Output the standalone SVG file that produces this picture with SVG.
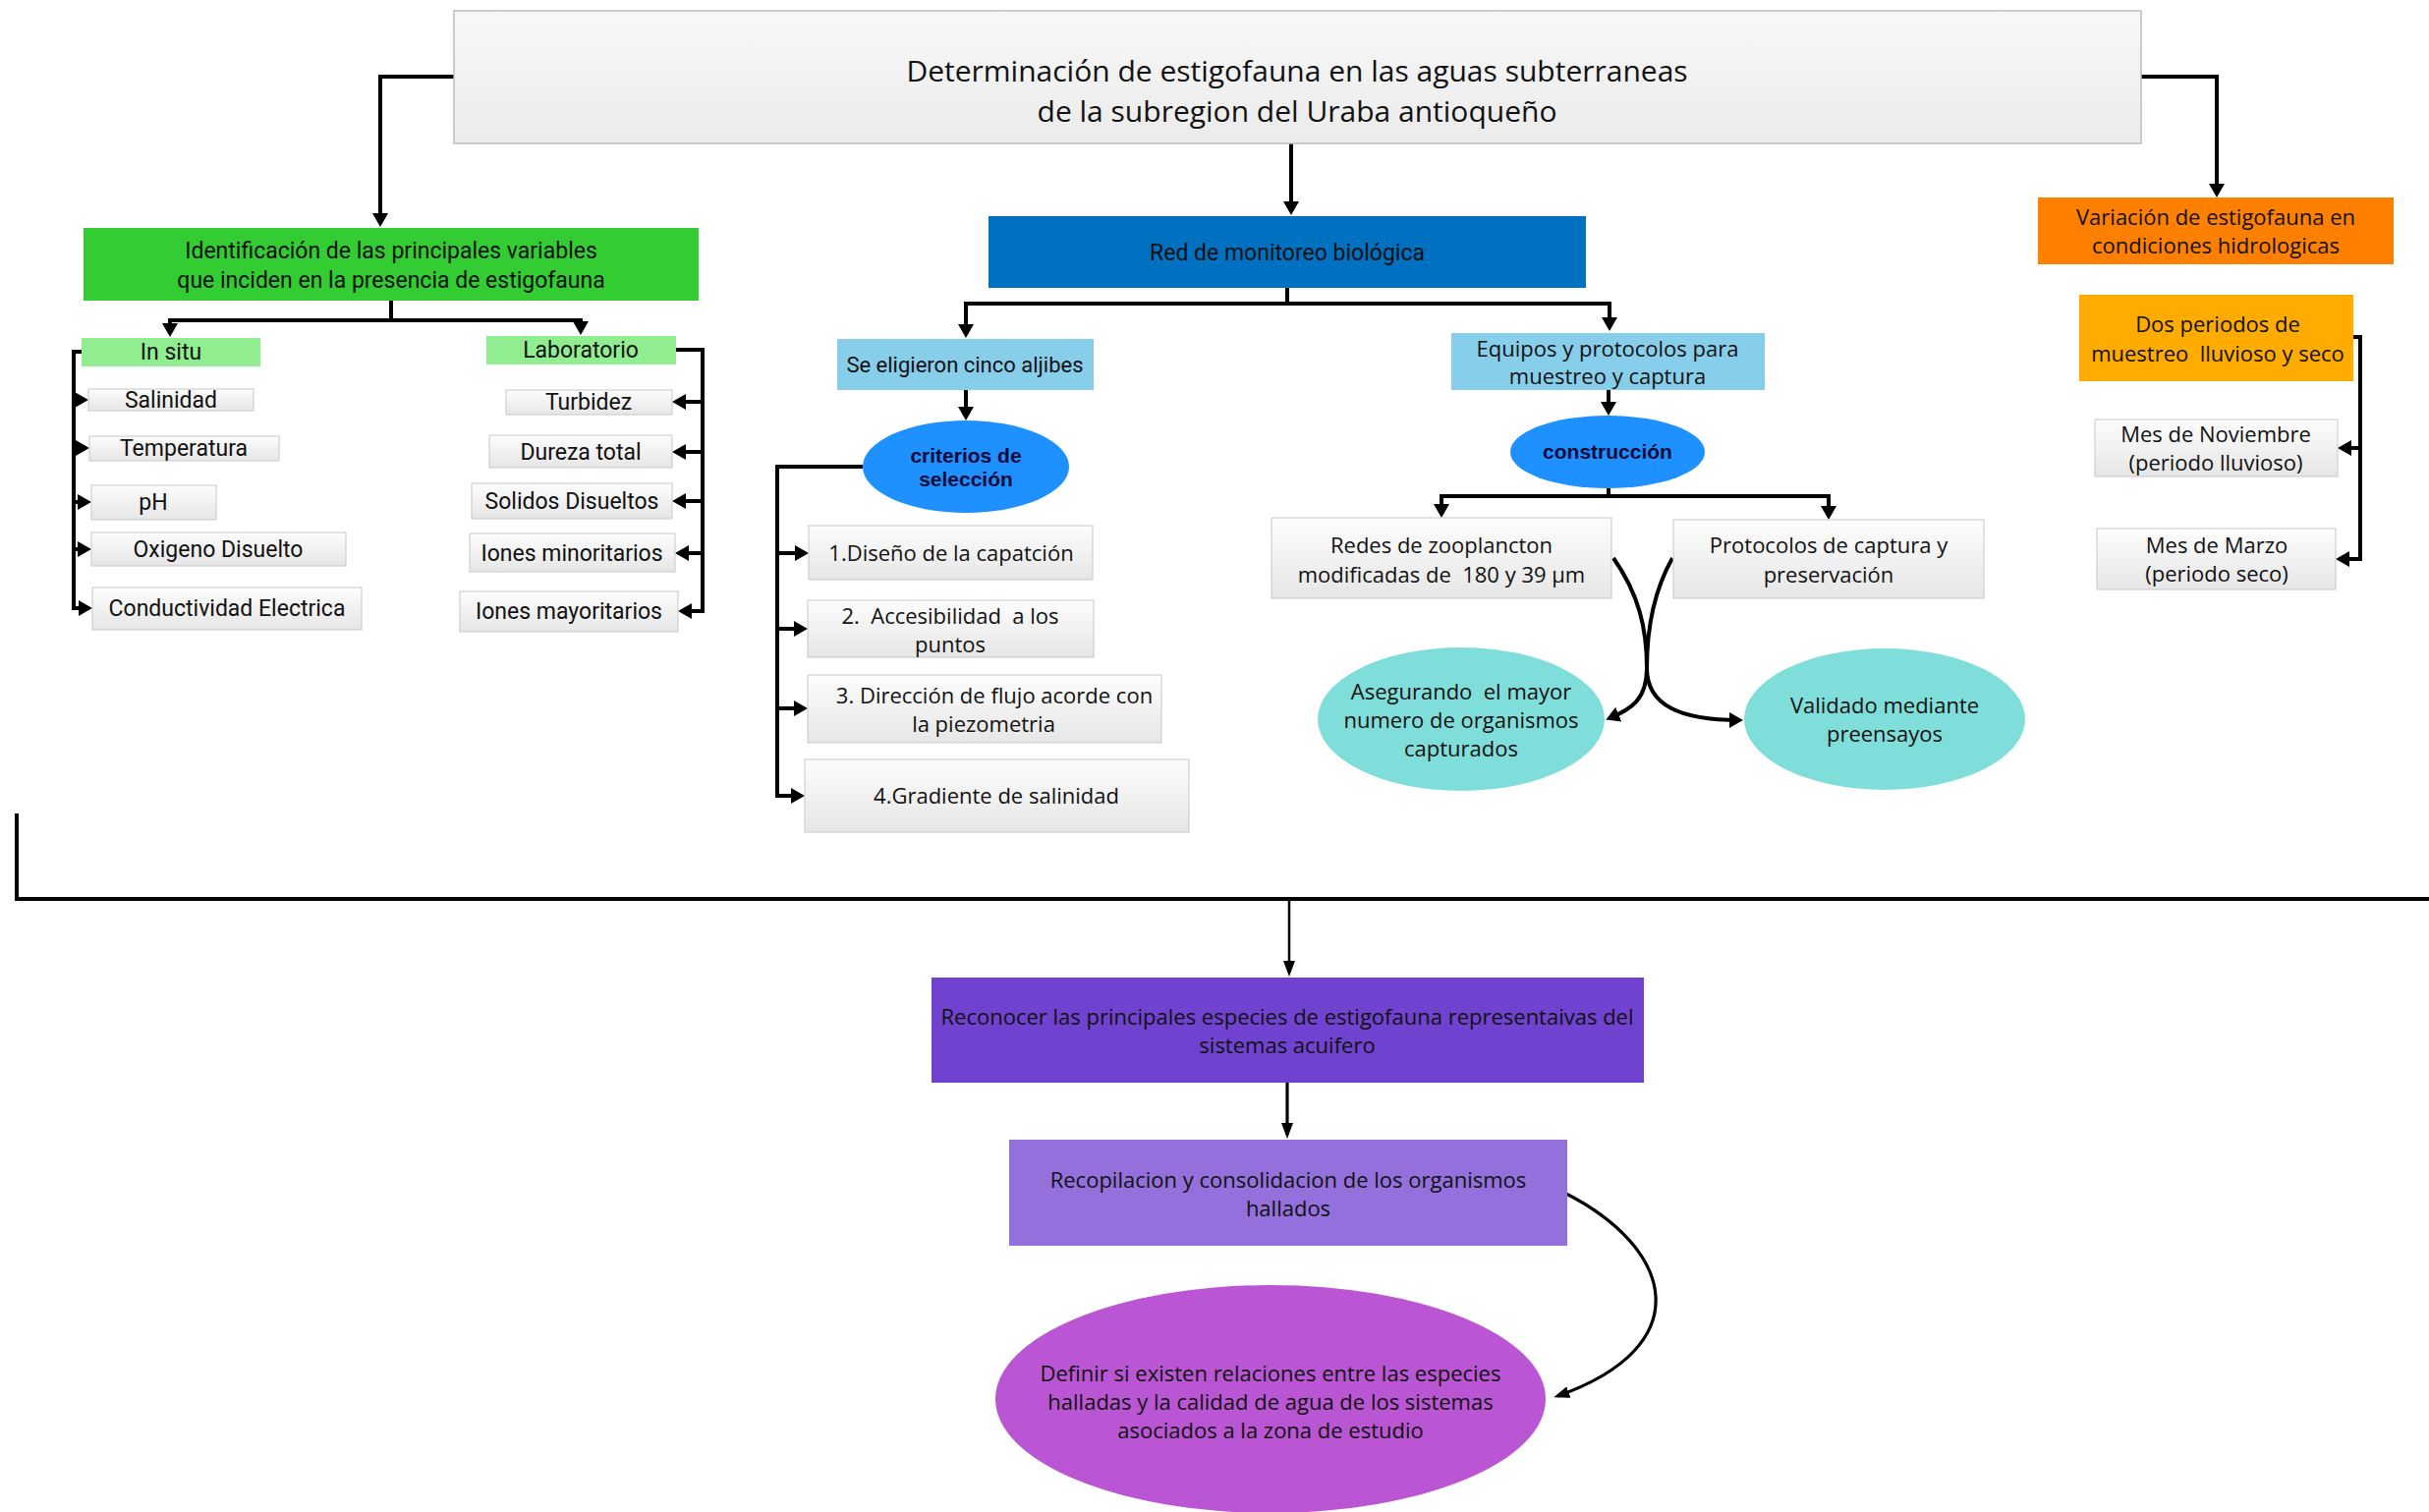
<svg xmlns="http://www.w3.org/2000/svg" width="2472" height="1539" viewBox="0 0 2472 1539">
<defs>
<linearGradient id="gGray" x1="0" y1="0" x2="0" y2="1">
<stop offset="0" stop-color="#fdfdfd"/><stop offset="1" stop-color="#e6e6e6"/>
</linearGradient>
<linearGradient id="gTitle" x1="0" y1="0" x2="0" y2="1">
<stop offset="0" stop-color="#f8f8f8"/><stop offset="1" stop-color="#ebebeb"/>
</linearGradient>
<marker id="ah" viewBox="0 0 14 16" refX="10" refY="8" markerWidth="14" markerHeight="16" markerUnits="userSpaceOnUse" orient="auto"><path d="M0,0 L14,8 L0,16 z" fill="#000"/></marker>
<marker id="ahs" viewBox="0 0 16 12" refX="12" refY="6" markerWidth="16" markerHeight="12" markerUnits="userSpaceOnUse" orient="auto"><path d="M0,0 L16,6 L0,12 z" fill="#000"/></marker>
<style>
.gray{fill:url(#gGray);stroke:#c8c8c8;stroke-width:1}
.t{font-family:"Open Sans","Noto Sans",sans-serif;font-size:22px;fill:#111;text-anchor:middle}
.r{font-family:Roboto,"Liberation Sans",sans-serif;font-size:23px;fill:#111;text-anchor:middle}
.b{font-family:"Liberation Sans",Arial,sans-serif;font-size:21px;font-weight:bold;fill:#0b0b3b;text-anchor:middle}
.ttl{font-family:"Open Sans","Noto Sans",sans-serif;font-size:30px;fill:#111;text-anchor:middle}
.c{fill:none;stroke:#000;stroke-width:4}
.ca{fill:none;stroke:#000;stroke-width:4;marker-end:url(#ah)}
.cs{fill:none;stroke:#000;stroke-width:2.5;marker-end:url(#ahs)}
.cs3{fill:none;stroke:#000;stroke-width:3.2;marker-end:url(#ahs)}
</style>
</defs>
<rect width="2472" height="1539" fill="#fff"/>

<g id="connectors">
<path class="ca" d="M462,78 H387 V227"/>
<path class="ca" d="M1314,146 V215"/>
<path class="ca" d="M2179,78 H2256 V197"/>
<path class="c" d="M398,306 V326 M171,326 H593"/>
<path class="ca" d="M173,326 V339"/>
<path class="ca" d="M591,326 V337"/>
<path class="c" d="M83,358 H75 V621"/>
<path class="ca" d="M75,407 H86"/>
<path class="ca" d="M75,456 H87"/>
<path class="ca" d="M75,511 H89"/>
<path class="ca" d="M75,559 H89"/>
<path class="ca" d="M75,619 H90"/>
<path class="c" d="M688,356 H715 V624"/>
<path class="ca" d="M715,409 H688"/>
<path class="ca" d="M715,460 H688"/>
<path class="ca" d="M715,510 H688"/>
<path class="ca" d="M715,563 H691"/>
<path class="ca" d="M715,622 H694"/>
<path class="c" d="M1310,293 V309 M981,309 H1640"/>
<path class="ca" d="M983,309 V340"/>
<path class="ca" d="M1638,309 V333"/>
<path class="ca" d="M983,397 V424"/>
<path class="ca" d="M1637,397 V419"/>
<path class="c" d="M878,475 H791 V812"/>
<path class="ca" d="M791,563 H819"/>
<path class="ca" d="M791,640 H818"/>
<path class="ca" d="M791,721 H818"/>
<path class="ca" d="M791,810 H815"/>
<path class="c" d="M1637,497 V505 M1465,505 H1863"/>
<path class="ca" d="M1467,505 V523"/>
<path class="ca" d="M1861,505 V525"/>
<path class="ca" d="M1642,568 C1668,605 1676,640 1676,680 C1676,718 1710,733 1770,733"/>
<path class="ca" d="M1702,568 C1684,600 1676,640 1676,680 C1676,712 1660,722 1638,731"/>
<path class="c" d="M2395,343 H2402 V571"/>
<path class="ca" d="M2402,456 H2383"/>
<path class="ca" d="M2402,569 H2381"/>
<path class="c" d="M17,828 V915 H2472"/>
<path class="cs" d="M1312,915 V990"/>
<path class="cs3" d="M1310,1102 V1155"/>
<path class="cs3" d="M1590,1213 C1705,1270 1730,1370 1585,1421"/>
</g>

<g id="n-title">
<rect x="462" y="11" width="1717" height="135" fill="url(#gTitle)" stroke="#bdbdbd" stroke-width="1.5"/>
<text class="ttl" x="1320" y="83">Determinación de estigofauna en las aguas subterraneas</text>
<text class="ttl" x="1320" y="124">de la subregion del Uraba antioqueño</text>
</g>

<g id="n-identificacion">
<rect x="85" y="232" width="626" height="74" fill="#33cc33"/>
<text class="r" x="398" y="263">Identificación de las principales variables</text>
<text class="r" x="398" y="293">que inciden en la presencia de estigofauna</text>
</g>
<g id="n-insitu"><rect x="83" y="344" width="182" height="29" fill="#90ee90"/><text class="r" x="174" y="366">In situ</text></g>
<g id="n-laboratorio"><rect x="495" y="342" width="193" height="29" fill="#90ee90"/><text class="r" x="591" y="364">Laboratorio</text></g>
<g id="n-salinidad"><rect class="gray" x="90" y="396" width="168" height="22"/><text class="r" x="174" y="415">Salinidad</text></g>
<g id="n-temperatura"><rect class="gray" x="91" y="444" width="193" height="25"/><text class="r" x="187" y="464">Temperatura</text></g>
<g id="n-ph"><rect class="gray" x="93" y="494" width="127" height="35"/><text class="r" x="156" y="519">pH</text></g>
<g id="n-oxigeno"><rect class="gray" x="93" y="542" width="259" height="34"/><text class="r" x="222" y="567">Oxigeno Disuelto</text></g>
<g id="n-conductividad"><rect class="gray" x="94" y="598" width="274" height="43"/><text class="r" x="231" y="627">Conductividad Electrica</text></g>
<g id="n-turbidez"><rect class="gray" x="515" y="397" width="169" height="25"/><text class="r" x="599" y="417">Turbidez</text></g>
<g id="n-dureza"><rect class="gray" x="498" y="443" width="186" height="33"/><text class="r" x="591" y="468">Dureza total</text></g>
<g id="n-solidos"><rect class="gray" x="480" y="492" width="204" height="36"/><text class="r" x="582" y="518">Solidos Disueltos</text></g>
<g id="n-minoritarios"><rect class="gray" x="478" y="543" width="209" height="39"/><text class="r" x="582" y="571">Iones minoritarios</text></g>
<g id="n-mayoritarios"><rect class="gray" x="468" y="602" width="222" height="41"/><text class="r" x="579" y="630">Iones mayoritarios</text></g>

<g id="n-red"><rect x="1006" y="220" width="608" height="73" fill="#0070c0"/><text class="r" x="1310" y="265">Red de monitoreo biológica</text></g>
<g id="n-aljibes"><rect x="852" y="345" width="261" height="52" fill="#87ceeb"/><text class="r" x="982" y="379" style="font-size:22px">Se eligieron cinco aljibes</text></g>
<g id="n-equipos"><rect x="1477" y="339" width="319" height="58" fill="#87ceeb"/>
<text class="t" x="1636" y="363">Equipos y protocolos para</text><text class="t" x="1636" y="391">muestreo y captura</text></g>
<g id="n-criterios"><ellipse cx="983" cy="475" rx="105" ry="47" fill="#1e90ff"/>
<text class="b" x="983" y="471">criterios de</text><text class="b" x="983" y="495">selección</text></g>
<g id="n-construccion"><ellipse cx="1636" cy="460" rx="99" ry="37" fill="#1e90ff"/><text class="b" x="1636" y="467">construcción</text></g>
<g id="n-c1"><rect class="gray" x="823" y="535" width="289" height="55"/><text class="t" x="968" y="571">1.Diseño de la capatción</text></g>
<g id="n-c2"><rect class="gray" x="822" y="611" width="291" height="58"/>
<text class="t" x="967" y="635" xml:space="preserve">2.  Accesibilidad  a los</text><text class="t" x="967" y="664">puntos</text></g>
<g id="n-c3"><rect class="gray" x="822" y="687" width="360" height="69"/>
<text class="t" x="1012" y="716">3. Dirección de flujo acorde con</text><text class="t" x="1001" y="745">la piezometria</text></g>
<g id="n-c4"><rect class="gray" x="819" y="773" width="391" height="74"/><text class="t" x="1014" y="818">4.Gradiente de salinidad</text></g>
<g id="n-redes"><rect class="gray" x="1294" y="527" width="346" height="82"/>
<text class="t" x="1467" y="563">Redes de zooplancton</text><text class="t" x="1467" y="593" xml:space="preserve">modificadas de  180 y 39 µm</text></g>
<g id="n-protocolos"><rect class="gray" x="1703" y="529" width="316" height="80"/>
<text class="t" x="1861" y="563">Protocolos de captura y</text><text class="t" x="1861" y="593">preservación</text></g>
<g id="n-asegurando"><ellipse cx="1487" cy="732" rx="146" ry="73" fill="#80deda"/>
<text class="t" x="1487" y="712" xml:space="preserve">Asegurando  el mayor</text><text class="t" x="1487" y="741">numero de organismos</text><text class="t" x="1487" y="770">capturados</text></g>
<g id="n-validado"><ellipse cx="1918" cy="732" rx="143" ry="72" fill="#80deda"/>
<text class="t" x="1918" y="726">Validado mediante</text><text class="t" x="1918" y="755">preensayos</text></g>

<g id="n-variacion"><rect x="2074" y="201" width="362" height="68" fill="#ff8000"/>
<text class="t" x="2255" y="229">Variación de estigofauna en</text><text class="t" x="2255" y="258">condiciones hidrologicas</text></g>
<g id="n-periodos"><rect x="2116" y="300" width="279" height="88" fill="#ffab00"/>
<text class="t" x="2257" y="338">Dos periodos de</text><text class="t" x="2257" y="368" xml:space="preserve">muestreo  lluvioso y seco</text></g>
<g id="n-noviembre"><rect class="gray" x="2132" y="427" width="247" height="58"/>
<text class="t" x="2255" y="450">Mes de Noviembre</text><text class="t" x="2255" y="479">(periodo lluvioso)</text></g>
<g id="n-marzo"><rect class="gray" x="2134" y="538" width="243" height="62"/>
<text class="t" x="2256" y="563">Mes de Marzo</text><text class="t" x="2256" y="592">(periodo seco)</text></g>

<g id="n-reconocer"><rect x="948" y="995" width="725" height="107" fill="#6f42cf"/>
<text class="t" x="1310" y="1043">Reconocer las principales especies de estigofauna representaivas del</text><text class="t" x="1310" y="1072">sistemas acuifero</text></g>
<g id="n-recopilacion"><rect x="1027" y="1160" width="568" height="108" fill="#9370db"/>
<text class="t" x="1311" y="1209">Recopilacion y consolidacion de los organismos</text><text class="t" x="1311" y="1238">hallados</text></g>
<g id="n-definir"><ellipse cx="1293" cy="1424" rx="280" ry="116" fill="#ba55d3"/>
<text class="t" x="1293" y="1406">Definir si existen relaciones entre las especies</text><text class="t" x="1293" y="1435">halladas y la calidad de agua de los sistemas</text><text class="t" x="1293" y="1464">asociados a la zona de estudio</text></g>
</svg>
